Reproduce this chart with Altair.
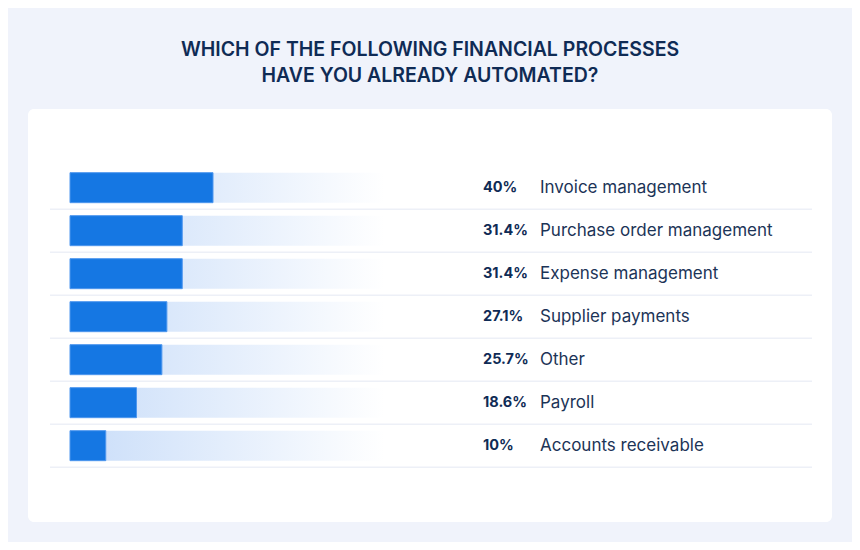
import altair as alt
import pandas as pd

categories = [
    "Invoice management",
    "Purchase order management",
    "Expense management",
    "Supplier payments",
    "Other",
    "Payroll",
    "Accounts receivable",
]
values = [40, 31.4, 31.4, 27.1, 25.7, 18.6, 10]
track_end = 88

df = pd.DataFrame({
    "category": categories,
    "value": values,
    "rank": list(range(len(categories))),
})
df["pct"] = [f"{v:g}%" for v in values]
df["track"] = track_end
df["sep"] = df["rank"] + 0.5

FONT = "Inter"
NAVY = "#0f2b55"

xs = alt.Scale(domain=[-11.75, 213.15], nice=False, zero=False, padding=0)
ys = alt.Scale(domain=[-1.83, 7.775], reverse=True, nice=False, zero=False, padding=0)

base = alt.Chart(df)

grad = alt.LinearGradient(
    gradient="linear",
    stops=[
        alt.GradientStop(color="#c9ddf9", offset=0),
        alt.GradientStop(color="#ffffff", offset=1),
    ],
    x1=0, x2=1, y1=0, y2=0,
)

track = base.mark_bar(orient="horizontal", size=30, color=grad).encode(
    x=alt.X("track:Q", scale=xs, axis=None),
    x2=alt.datum(0),
    y=alt.Y("rank:Q", scale=ys, axis=None),
)

bars = base.mark_bar(
    orient="horizontal", size=30, color="#1577e3",
    stroke="#4f97ee", strokeWidth=1,
).encode(
    x=alt.X("value:Q", scale=xs, axis=None),
    x2=alt.datum(0),
    y=alt.Y("rank:Q", scale=ys, axis=None),
)

seps = base.mark_rule(color="#edf0f7", strokeWidth=1.5).encode(
    x=alt.value(22),
    x2=alt.value(784),
    y=alt.Y("sep:Q", scale=ys, axis=None),
)

pct = base.mark_text(
    align="left", baseline="middle", font=FONT, fontSize=14.5,
    fontWeight="bold", color=NAVY,
).encode(
    x=alt.value(455),
    y=alt.Y("rank:Q", scale=ys, axis=None),
    text="pct:N",
)

labels = base.mark_text(
    align="left", baseline="middle", font=FONT, fontSize=17,
    fontWeight="normal", color="#1c3457",
).encode(
    x=alt.value(512),
    y=alt.Y("rank:Q", scale=ys, axis=None),
    text="category:N",
)

chart = (
    alt.layer(track, bars, seps, pct, labels)
    .properties(
        width=804,
        height=413,
        autosize="none",
        padding={"left": 20, "top": 101, "right": 20, "bottom": 20},
        background="#f0f3fb",
        title=alt.TitleParams(
            text=["WHICH OF THE FOLLOWING FINANCIAL PROCESSES",
                  "HAVE YOU ALREADY AUTOMATED?"],
            anchor="middle",
            font=FONT,
            fontSize=19.5,
            fontWeight=600,
            color=NAVY,
            lineHeight=26,
            offset=23,
        ),
    )
    .configure_view(fill="white", strokeWidth=0, cornerRadius=6)
)

chart.save("out.html", embed_options={"renderer": "svg", "actions": False})
